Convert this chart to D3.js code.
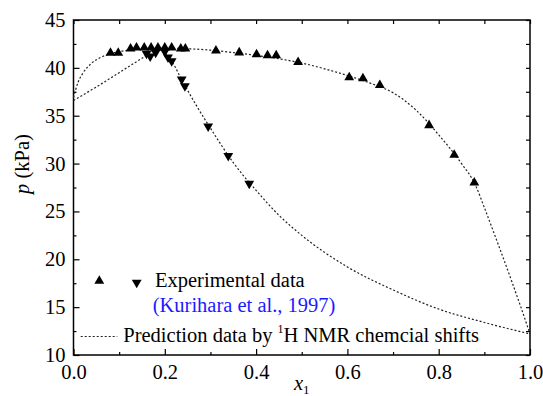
<!DOCTYPE html>
<html>
<head>
<meta charset="utf-8">
<script src="https://cdn.jsdelivr.net/npm/d3@7"></script>
<style>
  body { margin: 0; background: #fff; }
  svg text { font-family: "Liberation Serif", "Times New Roman", Times, "DejaVu Serif", serif !important; }
</style>
</head>
<body>
<div id="chart"></div>
<script>
// experimental points, liquid side (up triangles)
const upX = [0.081, 0.098, 0.125, 0.138, 0.155, 0.17, 0.185, 0.2, 0.215, 0.235, 0.245,
  0.312, 0.363, 0.401, 0.425, 0.444, 0.492, 0.604, 0.634, 0.671, 0.779, 0.834, 0.878];
const upP = [41.55, 41.55, 42.0, 42.1, 42.1, 42.1, 42.1, 42.1, 42.1, 42.0, 42.0,
  41.8, 41.6, 41.4, 41.3, 41.3, 40.6, 39.0, 38.9, 38.2, 34.0, 30.9, 28.0];

// experimental points, vapour side (down triangles)
const downX = [0.16, 0.168, 0.18, 0.2, 0.207, 0.215, 0.237, 0.244, 0.295, 0.339, 0.385];
const downP = [41.5, 41.2, 41.6, 41.7, 41.1, 40.7, 38.8, 38.1, 33.9, 30.8, 27.9];

// prediction curves
const bubbleX = [0, 0.01, 0.02, 0.04, 0.06, 0.08, 0.1, 0.15, 0.2, 0.25, 0.3, 0.35, 0.4, 0.45,
  0.5, 0.55, 0.6, 0.65, 0.7, 0.75, 0.8, 0.85, 0.88, 0.9, 0.93, 0.96, 0.98, 1.0];
const bubbleP = [36.9, 38.5, 39.4, 40.5, 41.1, 41.45, 41.7, 41.95, 42.05, 42.0, 41.85, 41.6, 41.3, 40.95,
  40.5, 39.9, 39.2, 38.4, 37.4, 35.6, 33.0, 30.0, 27.8, 25.4, 21.6, 17.7, 15.0, 12.2];

const dewX = [0, 0.05, 0.1, 0.15, 0.185, 0.2, 0.215, 0.24, 0.27, 0.3, 0.35, 0.4, 0.45, 0.5,
  0.6, 0.7, 0.8, 0.9, 1.0];
const dewP = [36.6, 38.0, 39.5, 41.0, 42.0, 41.6, 40.7, 38.5, 36.0, 33.7, 30.1, 27.2, 24.6, 22.5,
  19.2, 16.8, 14.8, 13.4, 12.2];

const xTicks = [0, 0.2, 0.4, 0.6, 0.8, 1.0];
const xMinor = [0.1, 0.3, 0.5, 0.7, 0.9];
const yTicks = [10, 15, 20, 25, 30, 35, 40, 45];
const yMinor = [12.5, 17.5, 22.5, 27.5, 32.5, 37.5, 42.5];

const width = 543, height = 396;
const plotLeft = 73.5, plotRight = 530, plotTop = 20, plotBottom = 355;
const serif = "Liberation Serif, Times New Roman, serif";

const svg = d3.select("#chart").append("svg")
  .attr("width", width)
  .attr("height", height)
  .attr("font-family", serif);

const x = d3.scaleLinear().domain([0, 1]).range([plotLeft, plotRight]);
const y = d3.scaleLinear().domain([10, 45]).range([plotBottom, plotTop]);

// axes, ticks pointing inward
function styleAxis(g) {
  g.attr("font-family", serif);
  g.select(".domain").remove();
  g.selectAll(".tick line").attr("stroke", "#000").attr("stroke-width", 1.2);
  g.selectAll("text").attr("font-size", "20.5px").attr("fill", "#000");
}

svg.append("g").attr("transform", `translate(0,${plotBottom})`)
  .call(d3.axisBottom(x).tickValues(xTicks).tickSize(-6).tickPadding(9).tickFormat(d3.format(".1f")))
  .call(styleAxis);
svg.append("g").attr("transform", `translate(0,${plotBottom})`)
  .call(d3.axisBottom(x).tickValues(xMinor).tickSize(-3).tickFormat(""))
  .call(styleAxis);
svg.append("g").attr("transform", `translate(0,${plotTop})`)
  .call(d3.axisTop(x).tickValues(xTicks.concat(xMinor)).tickSize(-4).tickFormat(""))
  .call(styleAxis);

svg.append("g").attr("transform", `translate(${plotLeft},0)`)
  .call(d3.axisLeft(y).tickValues(yTicks).tickSize(-6).tickPadding(8))
  .call(styleAxis);
svg.append("g").attr("transform", `translate(${plotLeft},0)`)
  .call(d3.axisLeft(y).tickValues(yMinor).tickSize(-3).tickFormat(""))
  .call(styleAxis);
svg.append("g").attr("transform", `translate(${plotRight},0)`)
  .call(d3.axisRight(y).tickValues(yTicks.concat(yMinor)).tickSize(-4).tickFormat(""))
  .call(styleAxis);

svg.append("rect")
  .attr("x", plotLeft).attr("y", plotTop)
  .attr("width", plotRight - plotLeft).attr("height", plotBottom - plotTop)
  .attr("fill", "none").attr("stroke", "#000").attr("stroke-width", 1.5);

// prediction curves
const line = d3.line()
  .x(d => x(d[0]))
  .y(d => y(d[1]))
  .curve(d3.curveMonotoneX);

[[bubbleX, bubbleP], [dewX, dewP]].forEach(([xs, ps]) => {
  svg.append("path")
    .datum(xs.map((v, i) => [v, ps[i]]))
    .attr("d", line)
    .attr("fill", "none")
    .attr("stroke", "#222")
    .attr("stroke-width", 1.2)
    .attr("stroke-dasharray", "2,2");
});

// markers
const tri = d3.symbol().type(d3.symbolTriangle).size(42);

svg.append("g").selectAll("path")
  .data(upX.map((v, i) => [v, upP[i]]))
  .join("path")
  .attr("d", tri)
  .attr("transform", d => `translate(${x(d[0])},${y(d[1])})`)
  .attr("fill", "#000");

svg.append("g").selectAll("path")
  .data(downX.map((v, i) => [v, downP[i]]))
  .join("path")
  .attr("d", tri)
  .attr("transform", d => `translate(${x(d[0])},${y(d[1])}) rotate(180)`)
  .attr("fill", "#000");

// legend
const legend = svg.append("g");
legend.append("path").attr("d", tri).attr("transform", "translate(99.3,281)");
legend.append("path").attr("d", tri).attr("transform", "translate(136.7,282.5) rotate(180)");
legend.append("text").attr("x", 155).attr("y", 286.5)
  .attr("font-size", "20.5px").text("Experimental data");
legend.append("text").attr("x", 152.7).attr("y", 312)
  .attr("font-size", "20.5px").attr("fill", "#1a1aff").text("(Kurihara et al., 1997)");
legend.append("line")
  .attr("x1", 80.7).attr("x2", 117.3).attr("y1", 336.5).attr("y2", 336.5)
  .attr("stroke", "#222").attr("stroke-width", 1.2).attr("stroke-dasharray", "2,2");
const pred = legend.append("text").attr("x", 123.3).attr("y", 342)
  .attr("font-size", "20.5px");
pred.append("tspan").text("Prediction data by ");
pred.append("tspan").attr("font-size", "12px").attr("dy", -9).text("1");
pred.append("tspan").attr("dy", 9).text("H NMR chemcial shifts");

// axis titles
const xt = svg.append("text").attr("x", 301.7).attr("y", 390)
  .attr("text-anchor", "middle").attr("font-size", "20.5px");
xt.append("tspan").attr("font-style", "italic").text("x");
xt.append("tspan").attr("font-size", "13px").attr("dy", 4).text("1");

const yt = svg.append("text")
  .attr("transform", "translate(29,164) rotate(-90)")
  .attr("text-anchor", "middle").attr("font-size", "20.5px");
yt.append("tspan").attr("font-style", "italic").text("p");
yt.append("tspan").text(" (kPa)");
</script>
</body>
</html>
